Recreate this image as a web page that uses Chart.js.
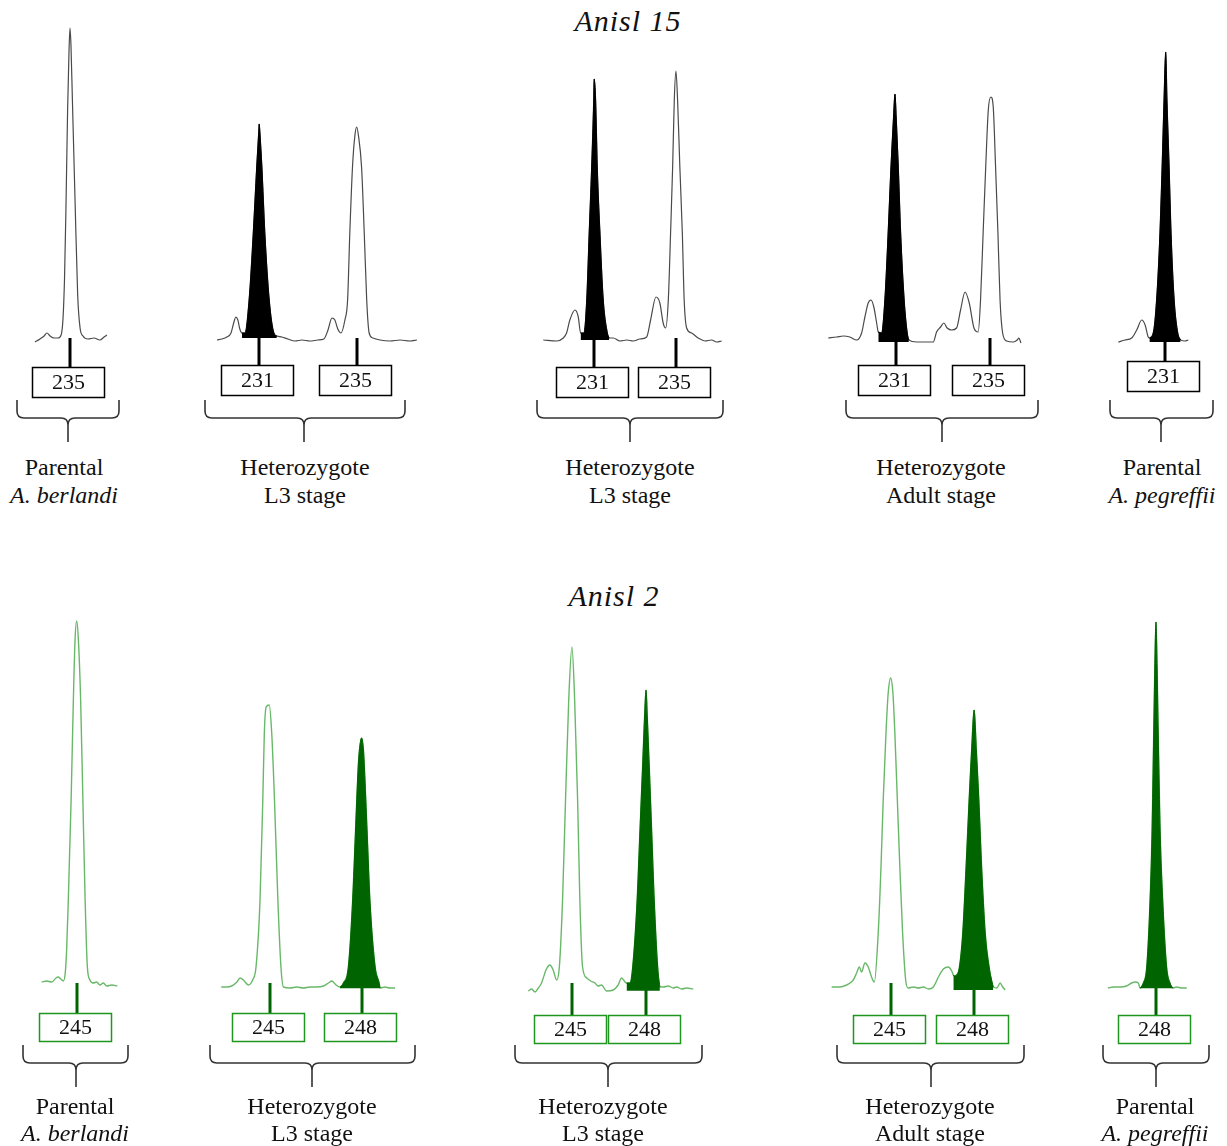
<!DOCTYPE html>
<html>
<head>
<meta charset="utf-8">
<script src="https://cdn.jsdelivr.net/npm/chart.js@4.4.1/dist/chart.umd.min.js"></script>
<style>
  body { margin: 0; background: #fff; }
  #fig { position: relative; width: 1227px; height: 1146px; background: #fff; overflow: hidden; }
  #fig canvas { position: absolute; }
  .txt { position: absolute; font-family: "Liberation Serif", "Times New Roman", serif; color: #111; text-align: center; white-space: nowrap; }
  .title { font-style: italic; font-size: 30px; line-height: 30px; letter-spacing: 1px; }
  .lab { font-size: 24px; }
</style>
</head>
<body>
<div id="fig"></div>
<script>
// ---- data : fragment size (bp) / signal (RFU) ----
const locusNames = ['Anisl 15', 'Anisl 2'];
const groupNames = ['Parental', 'Heterozygote', 'Heterozygote', 'Heterozygote', 'Parental'];
const groupStages = ['A. berlandi', 'L3 stage', 'L3 stage', 'Adult stage', 'A. pegreffii'];
const stageItalic = [true, false, false, false, true];

const allelesAnisl15 = [[235], [231, 235], [231, 235], [231, 235], [231]];
const allelesAnisl2 = [[245], [245, 248], [245, 248], [245, 248], [248]];

// Anisl 15
const a15BerlandiBp = [233.54, 233.75, 233.92, 234.04, 234.17, 234.33, 234.50, 234.63, 234.71, 234.77, 234.83, 234.90, 234.96, 235.00, 235.04, 235.10, 235.21, 235.32, 235.42, 235.54, 235.75, 236.00, 236.25, 236.42, 236.54];
const a15BerlandiRfu = [-20, 10, 40, 70, 40, 20, 20, 50, 220, 600, 1300, 2300, 2900, 3120, 2950, 2400, 1400, 450, 120, 40, 10, 20, 0, 30, 50];

const a15L3aBp = [229.29, 229.49, 229.69, 229.86, 229.98, 230.06, 230.14, 230.22, 230.31, 230.43, 230.60, 230.77, 230.91, 230.99, 231.01, 231.04, 231.12, 231.24, 231.42, 231.61, 231.73, 231.94, 232.18, 232.47, 232.76, 233.08, 233.41, 233.65, 233.82, 233.98, 234.10, 234.22, 234.35, 234.51, 234.62, 234.71, 234.82, 234.92, 234.99, 235.06, 235.19, 235.30, 235.40, 235.50, 235.65, 235.94, 236.35, 236.76, 237.16, 237.45];
const a15L3aRfu = [0, 10, 30, 70, 180, 230, 200, 110, 70, 70, 400, 1070, 1730, 2070, 2160, 2070, 1730, 1070, 400, 70, 40, 30, 10, -10, 0, -10, 0, 10, 100, 220, 200, 110, 70, 200, 400, 1070, 1730, 2050, 2130, 2050, 1730, 1070, 400, 70, 20, 0, -10, 0, -10, 0];

const a15L3bBp = [228.54, 229.19, 229.51, 229.67, 229.83, 230.08, 230.24, 230.35, 230.51, 230.65, 230.77, 230.89, 230.99, 231.01, 231.08, 231.16, 231.29, 231.45, 231.65, 231.74, 231.94, 232.26, 232.59, 232.91, 233.23, 233.56, 233.75, 234.01, 234.20, 234.36, 234.48, 234.61, 234.72, 234.82, 234.90, 234.98, 235.06, 235.17, 235.29, 235.38, 235.50, 235.74, 236.06, 236.39, 236.71, 236.96, 237.20];
const a15L3bRfu = [0, -10, 20, 70, 200, 300, 230, 70, 70, 400, 1070, 1730, 2400, 2610, 2400, 1730, 1070, 400, 70, 20, 20, -10, 0, -10, 10, 30, 200, 430, 370, 170, 120, 400, 1070, 1730, 2400, 2690, 2400, 1730, 1070, 400, 120, 70, 20, -10, 0, -20, -10];

const a15AdultBp = [228.12, 228.48, 228.76, 229.04, 229.33, 229.54, 229.68, 229.82, 229.94, 230.06, 230.18, 230.25, 230.39, 230.53, 230.67, 230.79, 230.90, 230.96, 231.01, 231.10, 231.20, 231.35, 231.48, 231.55, 231.88, 232.23, 232.59, 232.73, 232.90, 233.04, 233.18, 233.37, 233.58, 233.75, 233.94, 234.12, 234.32, 234.50, 234.60, 234.71, 234.82, 234.93, 235.04, 235.14, 235.24, 235.34, 235.43, 235.54, 235.71, 235.99, 236.16, 236.23, 236.32];
const a15AdultRfu = [20, 30, 40, 30, 0, 70, 230, 370, 400, 330, 170, 80, 70, 400, 1070, 1730, 2230, 2460, 2230, 1730, 1070, 400, 70, 0, -20, -20, -20, 80, 130, 170, 120, 100, 120, 300, 480, 370, 120, 80, 400, 1070, 1730, 2300, 2430, 2330, 1730, 1070, 400, 70, -10, -20, 0, 20, -30];

const a15PegreffiiBp = [229.05, 229.33, 229.61, 229.82, 230.03, 230.17, 230.30, 230.35, 230.51, 230.65, 230.79, 230.88, 230.96, 231.03, 231.08, 231.17, 231.25, 231.38, 231.53, 231.65, 231.83, 231.97];
const a15PegreffiiRfu = [-20, 0, 20, 100, 200, 150, 30, 20, 70, 400, 1070, 1730, 2400, 2880, 2400, 1730, 1070, 400, 70, 0, -10, 0];

// filled (dark) allele peak: bp range and flat base of the fill
const a15FillFrom = [null, 230.28, 230.33, 230.24, 230.33];
const a15FillTo = [null, 231.75, 231.76, 231.56, 231.66];
const a15FillBase = [null, 20, 0, -20, -20];

// Anisl 2
const a2BerlandiBp = [243.74, 243.92, 244.10, 244.25, 244.33, 244.42, 244.51, 244.58, 244.63, 244.69, 244.79, 244.87, 244.93, 244.99, 245.05, 245.13, 245.21, 245.29, 245.37, 245.46, 245.58, 245.70, 245.82, 245.94, 246.06, 246.24, 246.44];
const a2BerlandiRfu = [30, 40, 30, 70, 80, 60, 40, 120, 350, 850, 1850, 2850, 3450, 3640, 3450, 2850, 1850, 850, 180, 50, 20, 30, 0, 20, -10, 0, -10];

const a2L3aBp = [243.43, 243.61, 243.77, 243.94, 244.04, 244.15, 244.31, 244.45, 244.56, 244.69, 244.78, 244.83, 244.89, 244.99, 245.07, 245.16, 245.27, 245.37, 245.45, 245.67, 245.88, 246.10, 246.31, 246.53, 246.75, 246.91, 247.02, 247.16, 247.29, 247.40, 247.56, 247.70, 247.79, 247.88, 247.92, 247.99, 248.05, 248.08, 248.17, 248.26, 248.43, 248.56, 248.59, 248.75, 248.91, 249.08];
const a2L3aRfu = [-20, -20, -10, 30, 70, 50, 0, 50, 180, 850, 1850, 2520, 2780, 2800, 2520, 1850, 850, 180, -20, -30, -20, -30, -20, -20, -10, 20, 40, 0, -20, 20, 180, 850, 1520, 2180, 2350, 2470, 2350, 2180, 1520, 850, 180, 20, -30, -20, -30, -30];

const a2L3bBp = [243.23, 243.37, 243.50, 243.64, 243.77, 243.95, 244.11, 244.24, 244.38, 244.49, 244.62, 244.74, 244.87, 245.00, 245.11, 245.23, 245.32, 245.43, 245.60, 245.76, 245.93, 246.06, 246.20, 246.40, 246.67, 246.87, 247.01, 247.15, 247.21, 247.35, 247.46, 247.64, 247.75, 247.86, 247.94, 248.00, 248.05, 248.13, 248.23, 248.33, 248.47, 248.56, 248.70, 248.90, 249.10, 249.24, 249.44, 249.64, 249.91];
const a2L3bRfu = [-60, -40, -70, -30, 20, 150, 200, 150, 50, 180, 850, 1850, 2850, 3380, 2850, 1850, 850, 180, 70, 40, 20, -10, 0, -60, -50, 0, 70, 30, 20, 20, 180, 850, 1520, 2180, 2680, 2950, 2680, 2180, 1520, 850, 180, -20, -20, -10, -30, -20, -40, -30, -40];

const a2AdultBp = [242.86, 243.16, 243.40, 243.52, 243.64, 243.76, 243.86, 243.94, 244.06, 244.18, 244.30, 244.40, 244.54, 244.64, 244.72, 244.82, 244.90, 244.99, 245.07, 245.14, 245.23, 245.32, 245.42, 245.53, 245.62, 245.81, 245.99, 246.17, 246.35, 246.53, 246.71, 246.89, 247.07, 247.19, 247.25, 247.27, 247.37, 247.47, 247.59, 247.71, 247.82, 247.91, 248.00, 248.08, 248.17, 248.27, 248.40, 248.54, 248.69, 248.82, 248.94, 249.03, 249.12];
const a2AdultRfu = [-20, -20, 0, 20, 50, 120, 180, 130, 220, 180, 80, 30, 520, 1180, 1850, 2520, 2920, 3070, 2920, 2520, 1850, 1180, 520, 50, -30, -20, -30, -20, -40, -20, 80, 160, 180, 140, 100, 90, 100, 180, 520, 1180, 1850, 2350, 2750, 2350, 1850, 1180, 520, 180, -20, -30, 20, -20, -50];

const a2PegreffiiBp = [246.28, 246.48, 246.71, 246.95, 247.13, 247.25, 247.37, 247.43, 247.55, 247.67, 247.79, 247.86, 247.92, 247.96, 248.00, 248.04, 248.08, 248.15, 248.24, 248.38, 248.50, 248.60, 248.74, 248.92, 249.10];
const a2PegreffiiRfu = [-30, -20, -20, -10, 20, 30, 20, -30, 20, 180, 850, 1520, 2520, 3180, 3630, 3180, 2520, 1520, 850, 180, 20, -30, -20, -30, -30];

const a2FillFrom = [null, 247.28, 247.20, 247.24, 247.42];
const a2FillTo = [null, 248.60, 248.57, 248.70, 248.61];
const a2FillBase = [null, -33, -57, -50, -33];

// ---- layout (page pixels) ----
const FONT = '"Liberation Serif", "Times New Roman", serif';

const rows = [
  {
    locus: locusNames[0], alleles: allelesAnisl15,
    traces: [[a15BerlandiBp, a15BerlandiRfu], [a15L3aBp, a15L3aRfu], [a15L3bBp, a15L3bRfu], [a15AdultBp, a15AdultRfu], [a15PegreffiiBp, a15PegreffiiRfu]],
    fillFrom: a15FillFrom, fillTo: a15FillTo, fillBase: a15FillBase,
    top: 0, height: 450, plotBottom: 350, yMin: -100, yMax: 3400,
    titleX: 628, titleTop: 6, brace: [400, 418, 442], labelTop: 453, lineH: 28, boxH: 31,
    lineColor: '#4a4a4a', lineWidth: 1.2, peakColor: '#000000', tickColor: '#000000', boxColor: '#000000',
    panels: [
      { left: 5, width: 130, xMin: 232.29, xMax: 237.71, boxTop: 367, brace: [17, 119, 68], labelX: 64 },
      { left: 195, width: 230, xMin: 228.39, xMax: 237.78, boxTop: 365, brace: [205, 405, 304], labelX: 305 },
      { left: 527, width: 206, xMin: 227.75, xMax: 237.75, boxTop: 367, brace: [537, 723, 630], labelX: 630 },
      { left: 820, width: 228, xMin: 227.77, xMax: 237.47, boxTop: 365, brace: [846, 1038, 942], labelX: 941 },
      { left: 1100, width: 125, xMin: 228.29, xMax: 233.5, boxTop: 361, brace: [1110, 1213, 1161], labelX: 1162 }
    ]
  },
  {
    locus: locusNames[1], alleles: allelesAnisl2,
    traces: [[a2BerlandiBp, a2BerlandiRfu], [a2L3aBp, a2L3aRfu], [a2L3bBp, a2L3bRfu], [a2AdultBp, a2AdultRfu], [a2PegreffiiBp, a2PegreffiiRfu]],
    fillFrom: a2FillFrom, fillTo: a2FillTo, fillBase: a2FillBase,
    top: 575, height: 520, plotBottom: 1000, yMin: -150, yMax: 4100,
    titleX: 614, titleTop: 581, brace: [1045, 1063, 1087], labelTop: 1093, lineH: 27, boxH: 29,
    lineColor: '#69b869', lineWidth: 1.4, peakColor: '#006400', tickColor: '#006400', boxColor: '#1f961f',
    panels: [
      { left: 12, width: 130, xMin: 242.68, xMax: 247.32, boxTop: 1013, brace: [23, 128, 76], labelX: 75 },
      { left: 200, width: 225, xMin: 242.74, xMax: 250.05, boxTop: 1013, brace: [210, 415, 312], labelX: 312 },
      { left: 505, width: 207, xMin: 242.29, xMax: 250.67, boxTop: 1015, brace: [515, 702, 608], labelX: 603 },
      { left: 825, width: 209, xMin: 242.62, xMax: 250.16, boxTop: 1015, brace: [837, 1024, 931], labelX: 930 },
      { left: 1095, width: 125, xMin: 245.82, xMax: 250.29, boxTop: 1015, brace: [1103, 1209, 1156], labelX: 1155 }
    ]
  }
];

// allele ticks, allele boxes and the curly bracket under each sample
const alleleMarkers = {
  id: 'alleleMarkers',
  afterDraw(chart, args, o) {
    const ctx = chart.ctx;
    const xs = chart.scales.x, ys = chart.scales.y;
    const y0 = ys.getPixelForValue(0);
    ctx.save();
    o.alleles.forEach(a => {
      const px = Math.round(xs.getPixelForValue(a));
      ctx.strokeStyle = o.tickColor;
      ctx.lineWidth = 3;
      ctx.beginPath();
      ctx.moveTo(px, y0 - 2);
      ctx.lineTo(px, o.boxTop);
      ctx.stroke();

      const bx = px - 38;
      ctx.fillStyle = '#fff';
      ctx.fillRect(bx, o.boxTop, 73, o.boxH);
      ctx.strokeStyle = o.boxColor;
      ctx.lineWidth = 1.5;
      ctx.strokeRect(bx + 0.5, o.boxTop + 0.5, 72, o.boxH - 1);
      ctx.fillStyle = '#111';
      ctx.font = '22px ' + FONT;
      ctx.textAlign = 'center';
      ctx.textBaseline = 'middle';
      ctx.fillText(String(a), bx + 36.5, o.boxTop + o.boxH / 2 + 1);
    });

    // bracket
    const [x1, x2, cx] = o.brace;
    const [yt, ym, yb] = o.braceY;
    const r = 7;
    ctx.strokeStyle = '#333';
    ctx.lineWidth = 1.6;
    ctx.beginPath();
    ctx.moveTo(x1, yt);
    ctx.lineTo(x1, ym - r);
    ctx.quadraticCurveTo(x1, ym, x1 + r, ym);
    ctx.lineTo(cx - r, ym);
    ctx.quadraticCurveTo(cx, ym, cx, ym + r);
    ctx.lineTo(cx, yb);
    ctx.moveTo(x2, yt);
    ctx.lineTo(x2, ym - r);
    ctx.quadraticCurveTo(x2, ym, x2 - r, ym);
    ctx.lineTo(cx + r, ym);
    ctx.quadraticCurveTo(cx, ym, cx, ym + r);
    ctx.stroke();
    ctx.restore();
  }
};

const fig = document.getElementById('fig');

rows.forEach(row => {
  const t = document.createElement('div');
  t.className = 'txt title';
  t.style.left = (row.titleX - 150) + 'px';
  t.style.width = '300px';
  t.style.top = row.titleTop + 'px';
  t.textContent = row.locus;
  fig.appendChild(t);

  row.panels.forEach((p, i) => {
    const cv = document.createElement('canvas');
    cv.width = p.width;
    cv.height = row.height;
    cv.style.left = p.left + 'px';
    cv.style.top = row.top + 'px';
    fig.appendChild(cv);

    const [bp, rfu] = row.traces[i];
    const points = bp.map((v, k) => ({ x: v, y: rfu[k] }));
    const datasets = [{
      data: points,
      borderColor: row.lineColor,
      borderWidth: row.lineWidth,
      pointRadius: 0,
      fill: false,
      cubicInterpolationMode: 'monotone',
      order: 1
    }];
    if (row.fillFrom[i] !== null) {
      datasets.push({
        data: points.filter(pt => pt.x >= row.fillFrom[i] && pt.x <= row.fillTo[i]),
        borderColor: row.peakColor,
        backgroundColor: row.peakColor,
        borderWidth: 1,
        pointRadius: 0,
        fill: { value: row.fillBase[i] },
        cubicInterpolationMode: 'monotone',
        order: 0
      });
    }

    new Chart(cv, {
      type: 'line',
      data: { datasets },
      options: {
        responsive: false,
        animation: false,
        devicePixelRatio: 1,
        layout: { padding: { left: 0, right: 0, top: 0, bottom: row.top + row.height - row.plotBottom } },
        scales: {
          x: { type: 'linear', min: p.xMin, max: p.xMax, display: false },
          y: { min: row.yMin, max: row.yMax, display: false }
        },
        plugins: {
          legend: { display: false },
          tooltip: { enabled: false },
          alleleMarkers: {
            alleles: row.alleles[i],
            tickColor: row.tickColor,
            boxColor: row.boxColor,
            boxTop: p.boxTop - row.top,
            boxH: row.boxH,
            brace: p.brace.map(v => v - p.left),
            braceY: row.brace.map(v => v - row.top)
          }
        }
      },
      plugins: [alleleMarkers]
    });

    const lab = document.createElement('div');
    lab.className = 'txt lab';
    lab.style.left = (p.labelX - 100) + 'px';
    lab.style.width = '200px';
    lab.style.top = row.labelTop + 'px';
    lab.style.lineHeight = row.lineH + 'px';
    const l1 = document.createElement('div');
    l1.textContent = groupNames[i];
    const l2 = document.createElement('div');
    l2.textContent = groupStages[i];
    if (stageItalic[i]) l2.style.fontStyle = 'italic';
    lab.appendChild(l1);
    lab.appendChild(l2);
    fig.appendChild(lab);
  });
});
</script>
</body>
</html>
